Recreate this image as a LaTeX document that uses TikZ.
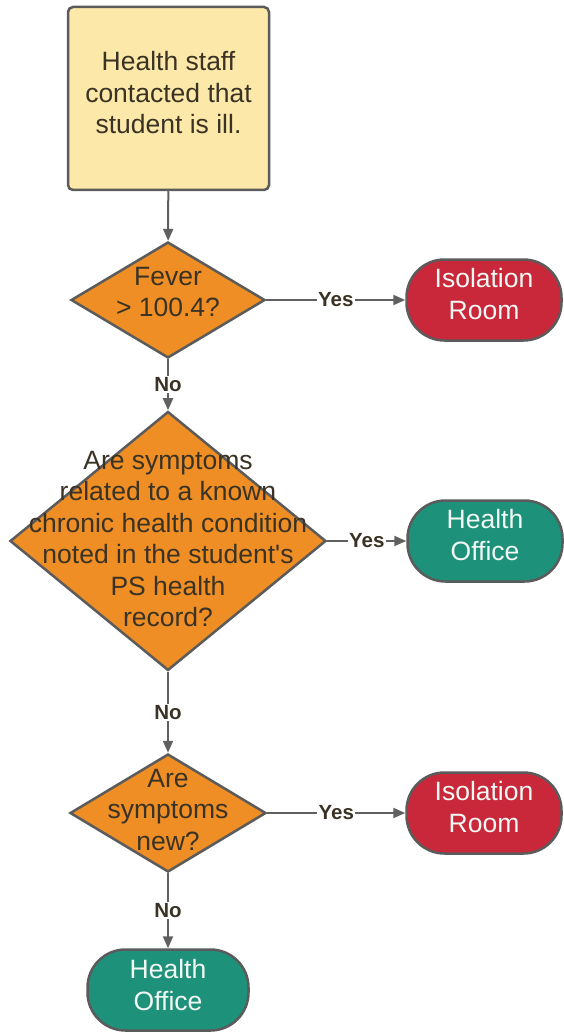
\documentclass[tikz,border=0pt]{standalone}
\usepackage{fontspec}
\setmainfont{Liberation Sans}
\usetikzlibrary{shapes.geometric,arrows.meta}
\definecolor{edgegray}{HTML}{5B5B5B}
\definecolor{linegray}{HTML}{606060}
\definecolor{startyellow}{HTML}{FCE8A8}
\definecolor{askorange}{HTML}{EE8E24}
\definecolor{isored}{HTML}{C9283A}
\definecolor{officeteal}{HTML}{1E917A}
\definecolor{darktext}{HTML}{3A3325}
\definecolor{lighttext}{HTML}{F2F8F4}
\begin{document}
\begin{tikzpicture}[x=1pt, y=-1pt, >={Triangle[length=12pt,width=10pt]},
    nodetext/.style={font=\fontsize{26.5}{31.5}\selectfont, align=center},
    startbox/.style={draw=edgegray, line width=2.5pt, fill=startyellow, rounded corners=5pt,
        inner sep=0pt, minimum width=201pt, minimum height=183pt},
    askbox/.style={diamond, draw=edgegray, line width=2.5pt, fill=askorange, inner sep=0pt},
    endbox/.style={draw=edgegray, line width=2.5pt, rounded corners=38pt, inner sep=0pt,
        minimum width=155pt, minimum height=81pt},
    link/.style={draw=linegray, line width=2pt},
    answer/.style={fill=white, inner sep=1.5pt, text=darktext, font=\fontsize{20.5}{22}\bfseries}]
    % Page
    \useasboundingbox[fill=white] (0, 0) rectangle (564, 1032);

    % Start
    \node[startbox] (start) at (168.5, 98.5) {};
    \node[nodetext, text=darktext] (startlabel) at (168.5, 93) {Health staff\\contacted that\\student is ill.};

    % Questions
    \node[askbox, minimum width=194pt, minimum height=116pt] (fever) at (168, 300) {};
    \node[nodetext, text=darktext] (feverlabel) at (168, 292) {Fever\\> 100.4?};
    \node[askbox, minimum width=316pt, minimum height=259pt] (chronic) at (168, 541) {};
    \node[nodetext, text=darktext] (chroniclabel) at (168, 539)
        {Are symptoms\\related to a known\\chronic health condition\\noted in the student\textquotesingle s\\PS health\\record?};
    \node[askbox, minimum width=196pt, minimum height=118pt] (newsym) at (168, 813) {};
    \node[nodetext, text=darktext] (newsymlabel) at (168, 810) {Are\\symptoms\\new?};

    % Outcomes
    \node[endbox, fill=isored] (isoA) at (484, 300) {};
    \node[nodetext, text=lighttext] (isoAlabel) at (484, 294) {Isolation\\Room};
    \node[endbox, fill=officeteal] (officeA) at (485, 541) {};
    \node[nodetext, text=lighttext] (officeAlabel) at (485, 535) {Health\\Office};
    \node[endbox, fill=isored] (isoB) at (484, 813) {};
    \node[nodetext, text=lighttext] (isoBlabel) at (484, 807) {Isolation\\Room};
    \node[endbox, fill=officeteal, minimum width=161pt] (officeB) at (168, 990) {};
    \node[nodetext, text=lighttext] (officeBlabel) at (168, 985) {Health\\Office};

    % Connectors
    \draw[link, ->] (start) -- (fever);
    \draw[link, ->] (fever) -- node[answer] {Yes} (isoA);
    \draw[link, ->] (fever) -- node[answer] {No} (chronic);
    \draw[link, ->] (chronic) -- node[answer] {Yes} (officeA);
    \draw[link, ->] (chronic) -- node[answer] {No} (newsym);
    \draw[link, ->] (newsym) -- node[answer] {Yes} (isoB);
    \draw[link, ->] (newsym) -- node[answer] {No} (officeB);
\end{tikzpicture}
\end{document}
